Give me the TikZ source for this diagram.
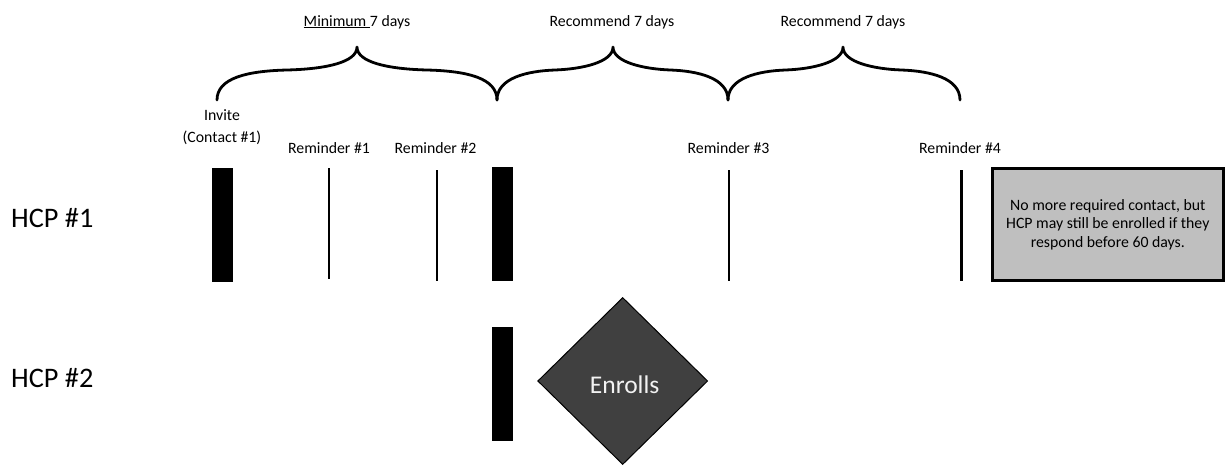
\documentclass[tikz,border=0pt]{standalone}
\usepackage{fontspec}
\setmainfont{Carlito}
\usetikzlibrary{shapes.geometric}

\newcommand\smalltext{\fontsize{15.8}{18.3}\selectfont}
\newcommand\rowtext{\fontsize{28.3}{32}\selectfont}

% curly brace opening downwards: left end, tip, right end
\newcommand\drawbrace[3]{%
  \draw[bracepath]
    (#1,100) .. controls (#1,78) and ({#1+30},71) .. ({(#1+#2)/2},70)
    .. controls ({#2-30},69) and (#2,62) .. (#2,47)
    .. controls (#2,62) and ({#2+30},69) .. ({(#2+#3)/2},70)
    .. controls ({#3-30},71) and (#3,78) .. (#3,100);}

\tikzset{
  lbl/.style={font=\smalltext, inner sep=0pt, anchor=base},
  rowlbl/.style={font=\rowtext, inner sep=0pt, anchor=base west},
  contact/.style={rectangle, fill=black, inner sep=0pt, minimum width=21, minimum height=114},
  tick/.style={rectangle, fill=black, inner sep=0pt, minimum width=2.7, minimum height=111},
  bracepath/.style={line width=2.8pt, line cap=round, line join=round},
  endbox/.style={rectangle, draw=black, line width=2.5pt, fill={rgb,255:red,191;green,191;blue,191},
    inner sep=0pt, minimum width=231, minimum height=112, align=center, font=\smalltext},
  enroll/.style={diamond, draw=black, line width=1pt, fill={rgb,255:red,64;green,64;blue,64},
    inner sep=0pt, minimum width=170, minimum height=167},
  enrolltext/.style={inner sep=0pt, text={rgb,255:red,242;green,242;blue,242},
    font=\fontsize{25.5}{30}\selectfont}
}

\begin{document}
\begin{tikzpicture}[x=1pt, y=-1pt]
  \useasboundingbox (0,0) rectangle (1225,466);

  % interval labels and braces
  \node[lbl] (int1) at (357,26) {\underline{Minimum\ }7 days};
  \node[lbl] (int2) at (612,26) {Recommend 7 days};
  \node[lbl] (int3) at (843,26) {Recommend 7 days};
  \drawbrace{217}{357}{497}
  \drawbrace{497}{613}{728}
  \drawbrace{728}{843}{960}

  % contact labels
  \node[lbl] (inv1) at (222,120) {Invite};
  \node[lbl] (inv2) at (222,142.5) {(Contact \#1)};
  \node[lbl] (rl1) at (329,153) {Reminder \#1};
  \node[lbl] (rl2) at (435.5,153) {Reminder \#2};
  \node[lbl] (rl3) at (728.5,153) {Reminder \#3};
  \node[lbl] (rl4) at (960,153) {Reminder \#4};

  % row labels
  \node[rowlbl] (hcp1) at (11,227) {HCP \#1};
  \node[rowlbl] (hcp2) at (11,387) {HCP \#2};

  % HCP #1 timeline
  \node[contact] (inv) at (222.5,225) {};
  \node[tick] (r1) at (329,223.5) {};
  \node[tick] (r2) at (437,225.5) {};
  \node[contact] (c2) at (502.5,224) {};
  \node[tick] (r3) at (729,225.5) {};
  \node[tick] (r4) at (961.5,225.5) {};
  \node[endbox] (done) at (1107.8,224.6)
    {No more required contact, but\\HCP may still be enrolled if they\\respond before 60 days.};

  % HCP #2 timeline
  \node[contact] (c2b) at (502.5,384) {};
  \node[enroll] (enr) at (622.7,381) {};
  \node[enrolltext] (enrl) at (624.7,385) {Enrolls};
\end{tikzpicture}
\end{document}
